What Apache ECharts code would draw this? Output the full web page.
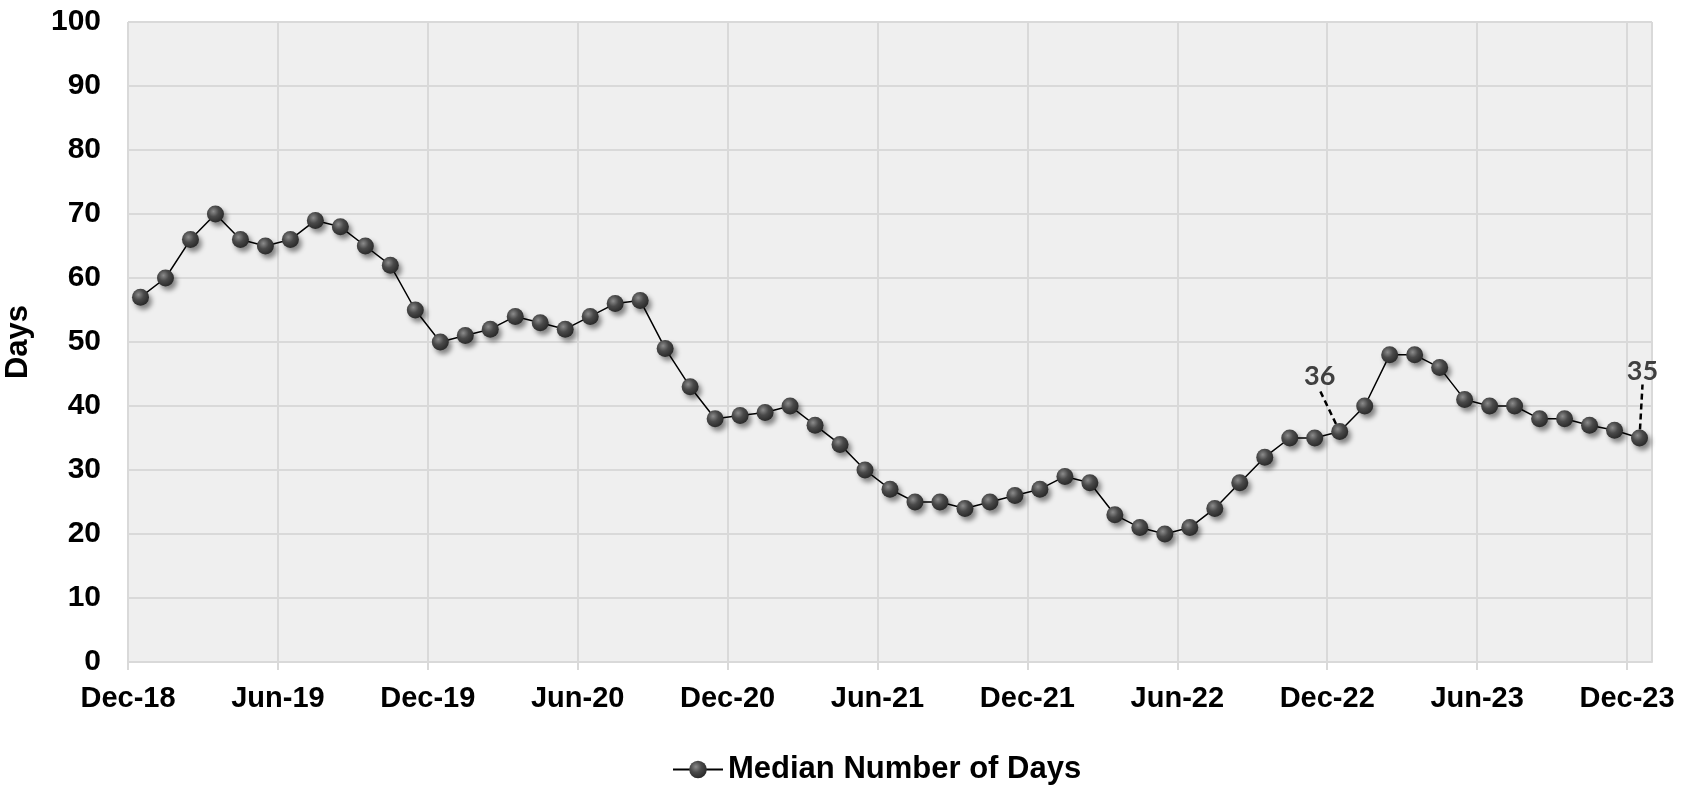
<!DOCTYPE html>
<html lang="en">
<head>
  <meta charset="UTF-8">
  <script src="https://cdn.jsdelivr.net/npm/echarts@6/dist/echarts.min.js"></script>
  <style>
    body { margin: 0; background: #ffffff; }
    #main { width: 1700px; height: 793px; }
  </style>
</head>
<body>
  <div id="main"></div>
  <script>
    // tick labels every 6 months, one data point per month
    var tickLabels = ['Dec-18', 'Jun-19', 'Dec-19', 'Jun-20', 'Dec-20', 'Jun-21',
                      'Dec-21', 'Jun-22', 'Dec-22', 'Jun-23', 'Dec-23'];
    var medianDays = [
      57, 60, 66, 70, 66, 65, 66, 69, 68, 65, 62, 55,
      50, 51, 52, 54, 53, 52, 54, 56, 56.5, 49, 43, 38,
      38.5, 39, 40, 37, 34, 30, 27, 25, 25, 24, 25, 26,
      27, 29, 28, 23, 21, 20, 21, 24, 28, 32, 35, 35,
      36, 40, 48, 48, 46, 41, 40, 40, 38, 38, 37, 36.2,
      35
    ];
    var annotated = { 48: '36', 60: '35' };

    var font = "'Liberation Sans', Arial, sans-serif";

    var ball = {
      type: 'radial', x: 0.38, y: 0.35, r: 0.7,
      colorStops: [
        { offset: 0, color: '#8c8c8c' },
        { offset: 0.45, color: '#4a4a4a' },
        { offset: 1, color: '#262626' }
      ]
    };

    var seriesData = medianDays.map(function (v, i) {
      var item = { value: [i + 0.5, v] };
      if (annotated[i]) {
        item.label = {
          show: true,
          formatter: annotated[i],
          position: 'top',
          fontFamily: 'Lato, sans-serif',
          fontWeight: 'bold',
          fontSize: 27,
          color: '#404040'
        };
        item.labelLine = {
          show: true,
          lineStyle: { type: [6, 4], color: '#000', width: 2.5 }
        };
      }
      return item;
    });

    var chart = echarts.init(document.getElementById('main'));
    chart.setOption({
      animation: false,
      grid: {
        left: 128, right: 48, top: 22, bottom: 131,
        outerBoundsMode: 'none',
        show: true, backgroundColor: '#efefef', borderWidth: 0
      },
      xAxis: {
        type: 'value',
        min: 0, max: 61, interval: 6,
        axisLine: { show: true, lineStyle: { color: '#d9d9d9', width: 2 } },
        axisTick: { show: true, length: 8, lineStyle: { color: '#d9d9d9', width: 2 } },
        splitLine: { show: true, lineStyle: { color: '#d9d9d9', width: 2 } },
        axisLabel: {
          margin: 22,
          fontFamily: font, fontWeight: 'bold', fontSize: 29, color: '#000',
          showMaxLabel: false,
          formatter: function (v) {
            var k = v / 6;
            return tickLabels[k] || '';
          }
        }
      },
      yAxis: {
        type: 'value',
        min: 0, max: 100, interval: 10,
        name: 'Days',
        nameLocation: 'middle',
        nameRotate: 90,
        nameGap: 94,
        nameTextStyle: { fontFamily: font, fontWeight: 'bold', fontSize: 31, color: '#000' },
        axisLine: { show: false },
        axisTick: { show: false },
        splitLine: { show: true, lineStyle: { color: '#d9d9d9', width: 2 } },
        axisLabel: {
          margin: 27,
          fontFamily: font, fontWeight: 'bold', fontSize: 30, color: '#000'
        }
      },
      legend: {
        left: 667, top: 749,
        itemWidth: 50, itemHeight: 22, itemGap: 8,
        textStyle: { fontFamily: font, fontWeight: 'bold', fontSize: 31, color: '#000' },
        data: ['Median Number of Days']
      },
      series: [{
        name: 'Median Number of Days',
        type: 'line',
        data: seriesData,
        symbol: 'circle',
        symbolSize: 17,
        lineStyle: { color: '#000', width: 1.5 },
        itemStyle: {
          color: ball,
          shadowBlur: 5, shadowOffsetX: 3, shadowOffsetY: 4,
          shadowColor: 'rgba(0,0,0,0.45)'
        },
        labelLayout: function (p) {
          if (p.dataIndex === 48) return { dx: -20, dy: -28 };
          if (p.dataIndex === 60) return { dx: 3, dy: -40 };
          return {};
        }
      }]
    });
  </script>
</body>
</html>
